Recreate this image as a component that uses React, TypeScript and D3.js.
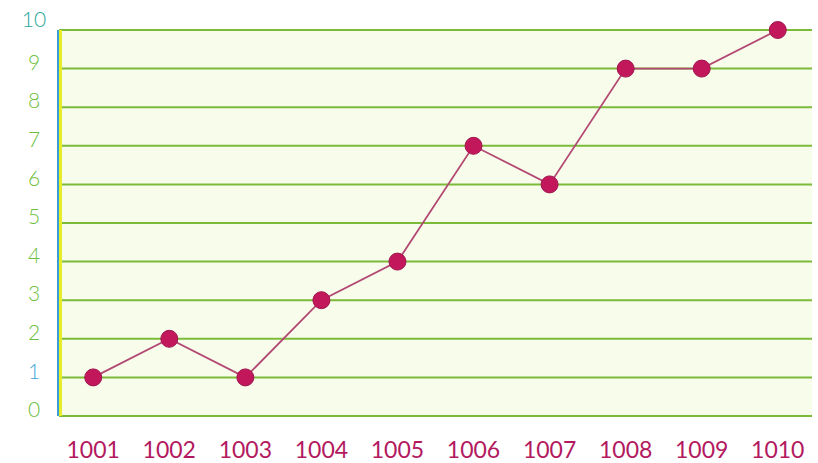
import React from 'react';
import * as d3 from 'd3';

const categories = ['1001', '1002', '1003', '1004', '1005', '1006', '1007', '1008', '1009', '1010'];
const values = [1, 2, 1, 3, 4, 7, 6, 9, 9, 10];
const yTicks = [0, 1, 2, 3, 4, 5, 6, 7, 8, 9, 10];

const W = 818;
const H = 463;
const left = 59;
const right = 812;
const top = 30;
const bottom = 416;

const App: React.FC = () => {
  const x = d3.scalePoint<string>().domain(categories).range([left, right]).padding(0.45);
  const y = d3.scaleLinear().domain([0, 10]).range([bottom, top]);

  const line = d3.line<number>()
    .x((d, i) => x(categories[i]) as number)
    .y(d => y(d));

  const tickColor = (t: number) => (t === 10 ? '#2aa69a' : t === 1 ? '#3fa7d6' : '#6cbf3c');

  return (
    <svg width={W} height={H} style={{ position: 'absolute', left: 0, top: 0, background: '#ffffff' }}>
      {/* plot background */}
      <rect x={left} y={top} width={right - left} height={bottom - top} fill="#f8fcea" />

      {/* grid lines */}
      {yTicks.map(t => (
        <line key={t} x1={left} x2={right} y1={y(t)} y2={y(t)} stroke="#7cba3a" strokeWidth={2} />
      ))}

      {/* left axis */}
      <line x1={left - 1} x2={left - 1} y1={top} y2={bottom} stroke="#3b9fd6" strokeWidth={2} />
      <line x1={left + 1.5} x2={left + 1.5} y1={top} y2={bottom} stroke="#e6ee2a" strokeWidth={3} />

      {/* y labels */}
      {yTicks.map(t => (
        <text
          key={t}
          x={34}
          y={y(t) - (t === 10 ? 8 : 4)}
          textAnchor="middle"
          dominantBaseline="middle"
          fontFamily="Lato, 'DejaVu Sans', sans-serif"
          fontWeight={300}
          fontSize={21}
          fill={tickColor(t)}
        >
          {t}
        </text>
      ))}

      {/* x labels */}
      {categories.map(c => (
        <text
          key={c}
          x={x(c)}
          y={452}
          textAnchor="middle"
          dominantBaseline="middle"
          fontFamily="Lato, 'DejaVu Sans', sans-serif"
          fontSize={23}
          fill="#b3195e"
        >
          {c}
        </text>
      ))}

      {/* series */}
      <path d={line(values) || ''} fill="none" stroke="#b24873" strokeWidth={1.8} />
      {values.map((v, i) => (
        <circle
          key={categories[i]}
          cx={x(categories[i])}
          cy={y(v)}
          r={8.5}
          fill="#c2185b"
          stroke="#a01450"
          strokeWidth={1}
        />
      ))}
    </svg>
  );
};

export default App;
